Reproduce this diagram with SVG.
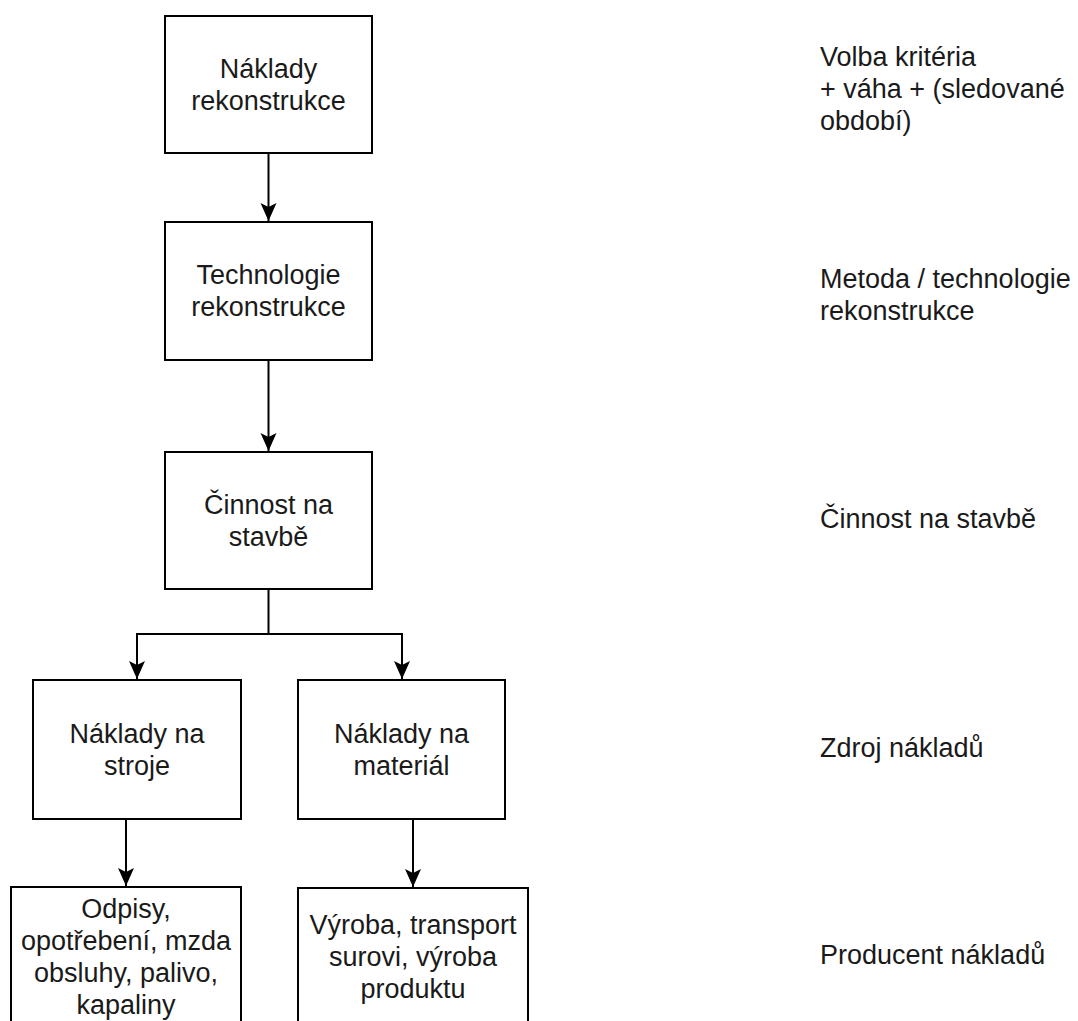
<svg xmlns="http://www.w3.org/2000/svg" width="1078" height="1021" viewBox="0 0 1078 1021">
  <style>
    .box { fill: #ffffff; stroke: #000000; stroke-width: 2; }
    .edge { fill: none; stroke: #000000; stroke-width: 2; }
    .lbl { font-family: "Liberation Sans", Arial, Helvetica, sans-serif; font-size: 27px; fill: #1a1a1a; }
    .c { text-anchor: middle; }
  </style>
  <defs>
    <marker id="arrow" viewBox="0 0 18 18" refX="18" refY="9" markerWidth="18" markerHeight="18" markerUnits="userSpaceOnUse" orient="auto">
      <path d="M0,1 L18,9 L0,17 L4,9 Z" fill="#000000"/>
    </marker>
  </defs>
  <rect width="1078" height="1021" fill="#ffffff"/>

  <!-- connectors -->
  <g id="connectors">
    <path class="edge" d="M268.5,153 V221" marker-end="url(#arrow)"/>
    <path class="edge" d="M268.5,360 V451" marker-end="url(#arrow)"/>
    <path class="edge" d="M268.5,589 V634 H137 V679" marker-end="url(#arrow)"/>
    <path class="edge" d="M268.5,634 H402 V679" marker-end="url(#arrow)"/>
    <path class="edge" d="M126,819 V886" marker-end="url(#arrow)"/>
    <path class="edge" d="M413,819 V887" marker-end="url(#arrow)"/>
  </g>

  <!-- flow nodes -->
  <g id="n-naklady-rekonstrukce">
    <rect class="box" x="165" y="16" width="207" height="137"/>
    <text class="lbl c" x="268.5" y="78">Náklady</text>
    <text class="lbl c" x="268.5" y="110">rekonstrukce</text>
  </g>
  <g id="n-technologie">
    <rect class="box" x="165" y="222" width="207" height="138"/>
    <text class="lbl c" x="268.5" y="284">Technologie</text>
    <text class="lbl c" x="268.5" y="316">rekonstrukce</text>
  </g>
  <g id="n-cinnost">
    <rect class="box" x="165" y="452" width="207" height="137"/>
    <text class="lbl c" x="268.5" y="514">Činnost na</text>
    <text class="lbl c" x="268.5" y="546">stavbě</text>
  </g>
  <g id="n-stroje">
    <rect class="box" x="33" y="680" width="208" height="139"/>
    <text class="lbl c" x="137" y="743">Náklady na</text>
    <text class="lbl c" x="137" y="775">stroje</text>
  </g>
  <g id="n-material">
    <rect class="box" x="298" y="680" width="207" height="139"/>
    <text class="lbl c" x="401.5" y="743">Náklady na</text>
    <text class="lbl c" x="401.5" y="775">materiál</text>
  </g>
  <g id="n-odpisy">
    <rect class="box" x="11" y="887" width="230" height="139"/>
    <text class="lbl c" x="126" y="918">Odpisy,</text>
    <text class="lbl c" x="126" y="950">opotřebení, mzda</text>
    <text class="lbl c" x="126" y="982">obsluhy, palivo,</text>
    <text class="lbl c" x="126" y="1014">kapaliny</text>
  </g>
  <g id="n-vyroba">
    <rect class="box" x="298" y="888" width="230" height="138"/>
    <text class="lbl c" x="413" y="934">Výroba, transport</text>
    <text class="lbl c" x="413" y="966">surovi, výroba</text>
    <text class="lbl c" x="413" y="998">produktu</text>
  </g>

  <!-- level descriptions -->
  <g id="level-notes">
    <text class="lbl" x="820" y="66">Volba kritéria</text>
    <text class="lbl" x="820" y="98">+ váha + (sledované</text>
    <text class="lbl" x="820" y="130">období)</text>
    <text class="lbl" x="820" y="288">Metoda / technologie</text>
    <text class="lbl" x="820" y="320">rekonstrukce</text>
    <text class="lbl" x="820" y="528">Činnost na stavbě</text>
    <text class="lbl" x="820" y="757">Zdroj nákladů</text>
    <text class="lbl" x="820" y="964">Producent nákladů</text>
  </g>
</svg>
